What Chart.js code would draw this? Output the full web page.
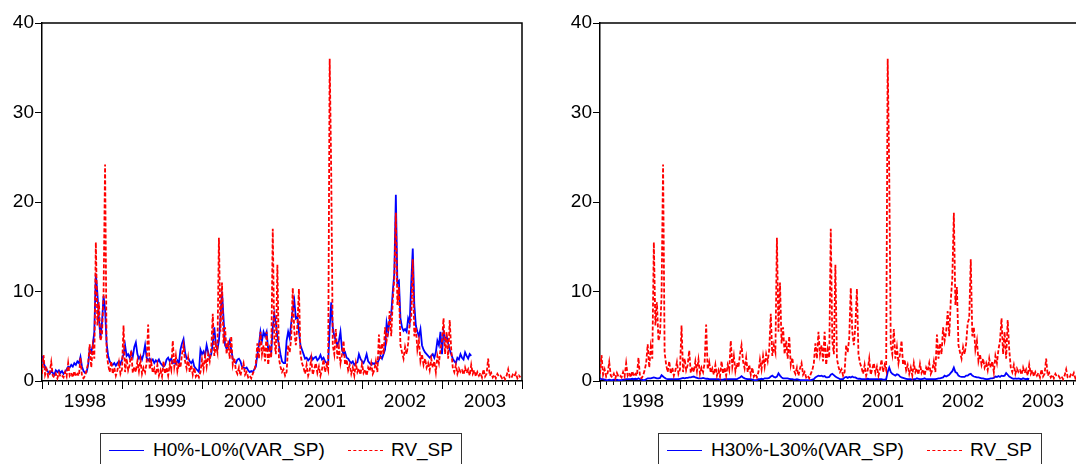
<!DOCTYPE html>
<html>
<head>
<meta charset="utf-8">
<script src="https://cdn.jsdelivr.net/npm/chart.js@4.4.1/dist/chart.umd.min.js"></script>
<style>
  html, body { margin: 0; padding: 0; background: #fff; overflow: hidden; }
  body { width: 1076px; height: 464px; position: relative; font-family: "Liberation Sans", Arial, sans-serif; }
  canvas { position: absolute; top: 0; }
  .legend { position: absolute; top: 433px; height: 40px; border: 1px solid #333; background: #fff; }
  .legend .item { position: absolute; top: 5px; font-size: 19px; line-height: 21px; color: #000; white-space: nowrap; }
  .legend .line { position: absolute; top: 16px; width: 35px; height: 0; }
</style>
</head>
<body>
<canvas id="leftChart" width="540" height="430" style="left:0px"></canvas>
<canvas id="rightChart" width="540" height="430" style="left:558px"></canvas>

<div class="legend" style="left:100px; width:360px;">
  <div class="line" style="left:8px; border-top:1.5px solid #0000ff;"></div>
  <div class="item" style="left:52px;">H0%-L0%(VAR_SP)</div>
  <div class="line" style="left:247px; border-top:1.5px dashed #ff0000;"></div>
  <div class="item" style="left:290px;">RV_SP</div>
</div>
<div class="legend" style="left:658px; width:382px;">
  <div class="line" style="left:8px; border-top:1.5px solid #0000ff;"></div>
  <div class="item" style="left:52px;">H30%-L30%(VAR_SP)</div>
  <div class="line" style="left:268px; border-top:1.5px dashed #ff0000;"></div>
  <div class="item" style="left:311px;">RV_SP</div>
</div>

<script>
// weekly observations, Jan 1998 - Dec 2003
const startYear = 1998;
const endYear = 2004;

const rvSP = [
  0.8, 2.9, 0.7, 1.3, 0.5, 0.9, 2.1, 0.6, 0.4, 0.8,
  0.3, 0.9, 0.5, 0.6, 0.4, 1.0, 0.5, 2.0, 0.6, 0.9,
  0.4, 1.1, 0.5, 0.8, 0.6, 2.6, 0.5, 0.3, 0.6, 1.2,
  2.0, 4.1, 1.5, 3.8, 2.5, 15.5, 6.2, 8.8, 4.5, 5.2,
  9.5, 24.2, 3.2, 1.8, 1.0, 2.2, 0.8, 1.5, 0.6, 1.2,
  2.1, 0.8, 1.3, 6.2, 1.0, 2.5, 1.2, 1.8, 3.4, 0.9,
  1.6, 1.0, 2.2, 1.1, 2.4, 0.8, 1.5, 1.0, 2.0, 6.3,
  1.3, 2.1, 0.9, 1.4, 0.7, 1.8, 0.6, 1.2, 0.5, 2.2,
  0.8, 1.5, 0.6, 1.8, 1.2, 4.5, 1.6, 2.8, 1.1, 2.0,
  1.5, 3.0, 4.0, 2.2, 1.4, 2.6, 1.0, 1.8, 0.7, 1.5,
  0.5, 0.8, 0.4, 1.0, 2.4, 1.3, 2.8, 1.6, 3.0, 2.2,
  3.5, 7.5, 2.8, 4.0, 3.2, 16.0, 5.5, 11.0, 4.2, 6.0,
  3.0, 4.5, 2.5, 5.0, 1.8, 2.6, 1.2, 0.8, 1.5, 0.6,
  1.4, 2.0, 0.7, 1.0, 0.4, 0.6, 0.3, 0.8, 1.2, 2.0,
  4.2, 2.5, 5.5, 3.0, 4.0, 2.2, 5.5, 1.8, 3.5, 2.6,
  17.0, 4.5, 3.0, 13.0, 2.5, 1.6, 1.0, 1.3, 0.6, 1.0,
  4.0, 3.2, 4.8, 10.4, 5.5, 4.0, 6.2, 10.3, 3.0, 2.0,
  1.5, 0.8, 1.8, 0.6, 1.2, 2.5, 0.7, 1.4, 2.0, 0.9,
  1.6, 0.6, 1.3, 2.4, 1.0, 1.8, 1.2, 36.0, 23.2, 4.0,
  3.0, 5.8, 2.5, 3.8, 2.0, 3.0, 4.5, 1.8, 2.4, 1.2,
  1.8, 0.8, 1.5, 0.6, 2.0, 1.0, 1.4, 0.7, 1.9, 0.9,
  1.3, 0.6, 1.5, 1.1, 2.0, 0.8, 1.2, 2.2, 1.0, 5.2,
  2.5, 4.2, 3.0, 6.0, 4.5, 5.5, 7.8, 5.0, 9.0, 11.5,
  18.8, 8.5, 10.5, 4.0, 3.2, 2.5, 3.8, 3.0, 4.2, 6.5,
  7.0, 13.6, 5.0, 6.0, 3.5, 4.5, 2.2, 3.0, 1.8, 2.5,
  1.5, 2.0, 1.2, 2.5, 1.5, 2.2, 1.0, 2.8, 2.0, 3.5,
  4.5, 7.0, 3.0, 5.5, 2.5, 6.8, 3.5, 1.5, 1.0, 1.8,
  0.8, 1.4, 1.0, 1.2, 0.7, 1.5, 0.9, 1.3, 0.6, 1.8,
  0.8, 1.2, 0.5, 1.0, 0.6, 0.9, 0.4, 1.3, 0.5, 0.8,
  2.5, 0.6, 0.9, 0.4, 0.7, 0.3, 0.8, 0.5, 0.6, 0.3,
  0.5, 0.2, 0.6, 1.3, 0.4, 0.3, 0.7, 0.5, 0.9, 0.3,
  0.6, 0.4
];

const h0l0 = [
  2.8, 2.0, 1.6, 1.3, 1.0, 0.8, 1.1, 0.9, 0.7, 1.2,
  1.0, 1.2, 0.9, 1.1, 0.8, 1.0, 1.3, 1.6, 1.5, 1.8,
  1.6, 2.0, 1.8, 2.2, 2.0, 2.7, 1.6, 1.1, 0.9, 1.0,
  1.8, 3.6, 3.2, 4.0, 5.5, 12.0, 9.8, 7.0, 4.8, 6.5,
  9.5, 8.0, 4.2, 2.8, 2.2, 1.9, 1.8, 2.0, 1.7, 2.0,
  2.2, 1.9, 2.4, 3.0, 4.0, 2.8, 3.0, 2.6, 3.2, 2.7,
  3.8, 4.3, 3.0, 2.5, 2.8, 2.4, 3.0, 4.0, 2.6, 2.3,
  2.5, 2.2, 2.4, 2.0, 2.3, 2.1, 2.4, 2.0, 1.8, 1.6,
  1.8, 2.4, 2.6, 2.2, 2.5, 2.0, 2.1, 1.9, 2.3, 2.0,
  3.5, 4.2, 4.7, 3.2, 2.5, 2.6, 2.2, 2.0, 2.3, 1.6,
  1.4, 1.2, 1.0, 3.5, 3.0, 3.3, 2.8, 4.0, 3.2, 2.6,
  3.0, 4.2, 6.0, 4.0, 3.5, 4.5, 7.0, 10.0, 7.0, 4.0,
  3.6, 4.0, 4.5, 3.5, 2.5, 2.2, 2.0, 2.4, 2.5, 2.2,
  1.6, 1.5, 1.4, 1.5, 1.2, 1.0, 1.1, 1.0, 1.3, 1.6,
  3.0, 4.0, 5.5, 4.5, 5.5, 5.0, 5.5, 3.5, 3.8, 3.2,
  6.0, 7.5, 6.5, 5.0, 4.0, 3.0, 2.2, 2.0, 2.0, 4.5,
  5.5, 4.8, 6.5, 8.0, 9.0, 7.0, 7.2, 5.5, 4.0, 3.5,
  3.0, 2.5, 2.6, 2.3, 2.5, 2.8, 2.4, 2.6, 2.7, 2.3,
  2.5, 2.9, 2.4, 2.6, 2.2, 2.0, 1.9, 6.0, 8.8, 6.0,
  5.0, 4.5, 4.0, 4.5, 5.5, 3.5, 3.0, 3.2, 2.6, 2.5,
  2.2, 2.0, 2.2, 1.8, 2.0, 2.1, 3.0, 2.5, 2.2, 2.0,
  2.4, 3.0, 2.2, 2.0, 1.8, 2.0, 1.9, 2.1, 2.0, 2.4,
  2.8, 2.5, 3.0, 3.5, 6.5, 5.5, 6.8, 7.5, 10.0, 12.0,
  20.8, 11.0, 11.2, 7.0, 6.0, 5.6, 5.8, 5.5, 7.0, 6.5,
  11.0, 14.8, 8.5, 6.2, 5.5, 5.0, 5.8, 4.0, 3.5, 3.2,
  3.0, 2.8, 2.6, 2.8, 3.0, 2.6, 3.2, 4.5, 4.0, 5.5,
  3.0, 5.5, 4.5, 5.0, 4.2, 3.5, 3.0, 2.5, 2.2, 2.0,
  2.6, 2.4, 3.0, 2.6, 2.4, 3.2, 2.8, 2.5, 3.0, 2.8
];

const h30l30 = [
  0.3, 0.2, 0.2, 0.15, 0.1, 0.1, 0.15, 0.1, 0.1, 0.15,
  0.1, 0.15, 0.1, 0.1, 0.1, 0.15, 0.15, 0.2, 0.2, 0.2,
  0.2, 0.25, 0.2, 0.25, 0.2, 0.3, 0.2, 0.15, 0.1, 0.1,
  0.2, 0.3, 0.3, 0.3, 0.35, 0.4, 0.35, 0.3, 0.3, 0.35,
  0.65, 0.5, 0.35, 0.25, 0.2, 0.2, 0.2, 0.2, 0.2, 0.2,
  0.2, 0.2, 0.25, 0.3, 0.35, 0.3, 0.35, 0.35, 0.4, 0.4,
  0.45, 0.5, 0.4, 0.35, 0.3, 0.3, 0.3, 0.35, 0.3, 0.25,
  0.25, 0.2, 0.2, 0.2, 0.2, 0.2, 0.2, 0.2, 0.15, 0.15,
  0.15, 0.2, 0.2, 0.2, 0.2, 0.2, 0.2, 0.2, 0.2, 0.2,
  0.3, 0.4, 0.55, 0.4, 0.3, 0.25, 0.2, 0.2, 0.2, 0.15,
  0.1, 0.1, 0.1, 0.2, 0.2, 0.25, 0.2, 0.3, 0.3, 0.3,
  0.35, 0.5, 0.6, 0.45, 0.4, 0.5, 0.85, 0.6, 0.4, 0.3,
  0.3, 0.3, 0.3, 0.25, 0.2, 0.2, 0.15, 0.15, 0.2, 0.15,
  0.1, 0.1, 0.1, 0.1, 0.1, 0.1, 0.1, 0.1, 0.15, 0.2,
  0.4, 0.5, 0.6, 0.55, 0.6, 0.5, 0.55, 0.4, 0.4, 0.45,
  0.7, 0.8, 0.65, 0.5, 0.4, 0.3, 0.2, 0.2, 0.2, 0.4,
  0.45, 0.35, 0.45, 0.4, 0.5, 0.4, 0.4, 0.3, 0.25, 0.25,
  0.2, 0.2, 0.2, 0.2, 0.25, 0.2, 0.2, 0.2, 0.2, 0.2,
  0.2, 0.2, 0.2, 0.2, 0.15, 0.15, 0.2, 1.0, 1.5, 1.0,
  0.8, 0.7, 0.6, 0.75, 0.7, 0.5, 0.4, 0.35, 0.3, 0.25,
  0.2, 0.2, 0.2, 0.15, 0.2, 0.2, 0.3, 0.25, 0.2, 0.2,
  0.25, 0.3, 0.2, 0.2, 0.2, 0.2, 0.2, 0.2, 0.2, 0.25,
  0.3, 0.3, 0.35, 0.4, 0.6, 0.5, 0.6, 0.7, 0.9, 1.1,
  1.5, 1.0, 0.9, 0.6, 0.5, 0.45, 0.45, 0.45, 0.6, 0.6,
  0.75, 0.8, 0.6, 0.5, 0.45, 0.4, 0.4, 0.35, 0.3, 0.3,
  0.25, 0.2, 0.2, 0.25, 0.3, 0.3, 0.35, 0.5, 0.45, 0.55,
  0.45, 0.6, 0.55, 0.6, 0.9, 0.7, 0.5, 0.4, 0.3, 0.25,
  0.3, 0.25, 0.3, 0.25, 0.2, 0.3, 0.25, 0.2, 0.25, 0.2
];

const yTicks = [0, 10, 20, 30, 40];
const yearLabels = ["1998", "1999", "2000", "2001", "2002", "2003"];

// week position on the time axis
const weeks = rvSP.map((_, i) => startYear + i / 52);
const months = [];
for (let m = 0; m <= (endYear - startYear) * 12; m++) months.push(startYear + m / 12);

const framePlugin = {
    id: "frame",
    afterDraw(chart) {
        const { ctx, chartArea } = chart;
        ctx.save();
        ctx.strokeStyle = "#000";
        ctx.lineWidth = 1.5;
        ctx.beginPath();
        ctx.moveTo(chartArea.left, chartArea.top);
        ctx.lineTo(chartArea.right, chartArea.top);
        ctx.lineTo(chartArea.right, chartArea.bottom);
        ctx.stroke();
        // longer ticks at year boundaries
        const xs = chart.scales.x;
        ctx.lineWidth = 1;
        for (let y = startYear; y <= endYear; y++) {
            const px = Math.round(xs.getPixelForValue(y)) + 0.5;
            ctx.beginPath();
            ctx.moveTo(px, chartArea.bottom);
            ctx.lineTo(px, chartArea.bottom + 8);
            ctx.stroke();
        }
        ctx.restore();
    },
};

function makeChart(id, blueSeries, blueName) {
    const ctx = document.getElementById(id).getContext("2d");
    return new Chart(ctx, {
        type: "line",
        data: {
            datasets: [
                {
                    label: blueName,
                    data: blueSeries.map((v, i) => ({ x: weeks[i], y: v })),
                    borderColor: "#0000ff",
                    borderWidth: 1.8,
                    pointRadius: 0,
                    tension: 0,
                    order: 2,
                },
                {
                    label: "RV_SP",
                    data: rvSP.map((v, i) => ({ x: weeks[i], y: v })),
                    borderColor: "#ff0000",
                    borderWidth: 1.8,
                    borderDash: [4, 2],
                    pointRadius: 0,
                    tension: 0,
                    order: 1,
                },
            ],
        },
        options: {
            responsive: false,
            animation: false,
            layout: {
                padding: { left: 0, right: 18, top: 23, bottom: 0 },
            },
            plugins: {
                legend: { display: false },
                tooltip: { enabled: false },
            },
            scales: {
                x: {
                    type: "linear",
                    min: startYear,
                    max: endYear,
                    afterBuildTicks: (axis) => {
                        axis.ticks = months.map((v) => ({ value: v }));
                    },
                    afterFit: (axis) => {
                        axis.height = 49;
                    },
                    ticks: {
                        autoSkip: false,
                        maxRotation: 0,
                        minRotation: 0,
                        padding: 5,
                        labelOffset: 3,
                        color: "#000",
                        font: { family: "Liberation Sans", size: 19 },
                        callback: (value, index) =>
                            index % 12 === 6 ? yearLabels[Math.floor(index / 12)] : "",
                    },
                    grid: {
                        drawOnChartArea: false,
                        tickLength: 4,
                        tickColor: "#000",
                    },
                    border: { color: "#000", width: 1.5 },
                },
                y: {
                    min: 0,
                    max: 40,
                    afterBuildTicks: (axis) => {
                        axis.ticks = yTicks.map((v) => ({ value: v }));
                    },
                    afterFit: (axis) => {
                        axis.width = 42;
                    },
                    ticks: {
                        padding: 1,
                        color: "#000",
                        font: { family: "Liberation Sans", size: 19 },
                    },
                    grid: {
                        drawOnChartArea: false,
                        tickLength: 7,
                        tickColor: "#000",
                    },
                    border: { color: "#000", width: 1.5 },
                },
            },
        },
        plugins: [framePlugin],
    });
}

makeChart("leftChart", h0l0, "H0%-L0%(VAR_SP)");
makeChart("rightChart", h30l30, "H30%-L30%(VAR_SP)");
</script>
</body>
</html>
